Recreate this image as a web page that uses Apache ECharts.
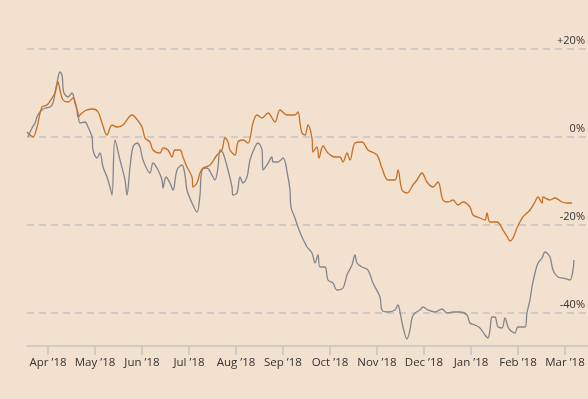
<!DOCTYPE html>
<html>
<head>
<meta charset="utf-8">
<script src="https://cdn.jsdelivr.net/npm/echarts@6/dist/echarts.min.js"></script>
<style>
  html, body { margin: 0; padding: 0; background: #f3e1cf; }
  #chart { width: 588px; height: 399px; }
</style>
</head>
<body>
<div id="chart"></div>
<script>
// Month labels; x positions below are measured in months from Apr '18 (0 = Apr).
const monthLabels = ["Apr ’18", "May ’18", "Jun ’18", "Jul ’18", "Aug ’18", "Sep ’18",
                     "Oct ’18", "Nov ’18", "Dec ’18", "Jan ’18", "Feb ’18", "Mar ’18"];
const yTicks = [-40, -20, 0, 20];

// Orange series: position (months) and % change
const orangeX = [-0.447,-0.383,-0.319,-0.234,-0.128,-0.021,0.085,0.149,0.213,0.255,0.319,0.426,0.532,0.617,0.638,0.723,0.830,0.957,1.064,1.149,1.255,1.362,1.468,1.596,1.787,1.851,2.0,2.064,2.170,2.234,2.383,2.447,2.553,2.638,2.702,2.809,2.872,2.957,3.064,3.085,3.170,3.234,3.298,3.447,3.596,3.702,3.766,3.830,3.872,3.979,4.043,4.149,4.255,4.362,4.447,4.553,4.681,4.830,4.936,5.085,5.255,5.319,5.362,5.404,5.468,5.532,5.617,5.638,5.723,5.766,5.851,5.957,6.106,6.213,6.277,6.362,6.426,6.532,6.681,6.809,7.0,7.106,7.234,7.383,7.447,7.532,7.638,7.766,7.851,7.957,8.064,8.191,8.298,8.404,8.511,8.617,8.723,8.830,8.979,9.043,9.191,9.298,9.340,9.404,9.553,9.681,9.787,9.830,9.894,9.979,10.106,10.255,10.362,10.426,10.511,10.532,10.681,10.787,10.936,11.043,11.149];
const orangeY = [1.14,0.45,0,2.27,6.82,7.27,8.86,10.0,12.5,10.68,8.41,7.95,8.86,6.14,4.55,5.45,6.14,6.36,5.68,3.18,0.45,2.73,2.27,2.73,5.0,4.55,2.27,-0.23,-1.14,-2.95,-3.64,-2.5,-2.95,-4.55,-2.95,-2.95,-4.55,-6.82,-9.09,-11.36,-10.45,-8.18,-7.05,-6.36,-4.09,-2.95,-0.23,-1.14,-2.95,-4.09,-1.14,-0.68,-1.36,3.18,5.0,4.32,5.45,3.41,6.14,5.0,5.0,5.68,3.18,0.91,0.45,2.73,-0.23,-3.41,-2.27,-4.77,-2.05,-3.64,-4.55,-4.55,-5.68,-3.64,-5.23,-1.36,-1.14,-2.95,-4.09,-7.05,-9.77,-9.77,-7.5,-12.05,-12.73,-10.91,-9.77,-8.18,-10.23,-11.36,-10.23,-14.32,-14.77,-14.32,-15.45,-14.77,-15.91,-17.73,-18.41,-18.86,-17.27,-19.32,-19.32,-21.14,-22.95,-23.64,-22.95,-20.68,-18.18,-16.59,-14.77,-13.64,-15.0,-13.64,-14.32,-13.86,-14.77,-15.0,-15.0];

// Grey series: position (months) and % change
const greyX = [-0.426,-0.340,-0.277,-0.234,-0.170,-0.064,0.043,0.106,0.149,0.191,0.255,0.298,0.319,0.340,0.426,0.511,0.574,0.638,0.681,0.787,0.851,0.936,0.957,1.043,1.106,1.170,1.255,1.319,1.362,1.426,1.532,1.638,1.681,1.745,1.809,1.894,1.957,2.021,2.170,2.234,2.340,2.426,2.447,2.511,2.596,2.660,2.745,2.851,2.915,2.957,3.064,3.170,3.234,3.277,3.383,3.489,3.553,3.617,3.660,3.723,3.830,3.915,3.936,4.021,4.085,4.149,4.234,4.298,4.404,4.468,4.553,4.574,4.660,4.766,4.787,4.894,5.0,5.106,5.149,5.170,5.255,5.319,5.404,5.468,5.511,5.617,5.681,5.745,5.787,5.894,5.957,6.064,6.149,6.277,6.362,6.468,6.532,6.574,6.681,6.809,6.915,7.064,7.106,7.234,7.383,7.447,7.489,7.553,7.638,7.702,7.745,7.809,7.915,7.979,8.085,8.234,8.383,8.489,8.617,8.766,8.915,8.979,9.085,9.191,9.298,9.362,9.404,9.447,9.511,9.574,9.660,9.723,9.787,9.830,9.936,10.0,10.149,10.191,10.255,10.298,10.362,10.426,10.511,10.574,10.681,10.745,10.851,10.957,11.106,11.170,11.191];
const greyY = [0,2.05,3.18,4.55,5.68,6.59,6.82,7.73,10.0,12.27,14.77,14.09,11.36,10.0,9.09,10.0,7.73,5.45,3.18,3.41,2.27,0,-2.95,-4.77,-3.64,-6.82,-9.09,-11.36,-13.18,-0.68,-5.23,-9.77,-13.18,-6.82,-2.27,-1.36,-2.27,-5.23,-8.18,-5.91,-7.5,-9.77,-11.59,-9.09,-10.45,-12.05,-7.5,-6.36,-8.64,-12.05,-15.0,-17.05,-13.18,-7.5,-7.05,-8.64,-9.77,-6.82,-2.95,-3.64,-7.5,-11.36,-13.18,-12.73,-9.09,-10.45,-9.09,-5.23,-2.27,-1.36,-2.95,-7.5,-6.36,-4.55,-5.68,-5.68,-4.77,-9.09,-12.05,-15.91,-18.41,-20.45,-22.73,-24.09,-25.0,-26.36,-28.64,-26.82,-29.55,-29.55,-32.5,-33.18,-34.77,-34.32,-31.36,-29.09,-26.82,-28.64,-29.55,-30.23,-33.18,-36.36,-39.32,-39.77,-39.32,-38.18,-39.77,-43.18,-45.91,-43.86,-41.14,-40.0,-39.32,-38.64,-39.32,-39.77,-39.09,-40.0,-39.77,-39.77,-40.45,-42.27,-42.73,-43.41,-45.0,-45.68,-43.86,-40.91,-40.91,-43.18,-43.41,-41.14,-43.18,-43.86,-44.55,-43.18,-43.18,-40.0,-37.05,-34.09,-30.91,-28.64,-27.5,-26.14,-27.27,-30.23,-31.82,-32.05,-32.5,-30.23,-27.95];

const zip = (xs, ys) => xs.map((x, i) => [x, ys[i]]);
const monthIdx = monthLabels.map((_, i) => i);

const chart = echarts.init(document.getElementById('chart'), null, { renderer: 'canvas' });
chart.setOption({
  backgroundColor: '#f3e1cf',
  animation: false,
  textStyle: { fontFamily: '"Open Sans", sans-serif' },
  grid: { left: 27, right: 0, top: 27, bottom: 53 },
  xAxis: {
    type: 'value',
    min: -0.447,
    max: 11.49,
    axisLine: { show: true, onZero: false, lineStyle: { color: '#c3c3c3', width: 1.5 } },
    axisTick: { show: true, length: 9, lineStyle: { color: '#c3c3c3', width: 1.5 }, customValues: monthIdx },
    axisLabel: {
      customValues: monthIdx,
      formatter: v => monthLabels[Math.round(v)],
      color: '#333333', fontSize: 11.5, margin: 11,
      hideOverlap: false, alignMaxLabel: 'center', alignMinLabel: 'center'
    },
    splitLine: { show: false }
  },
  yAxis: {
    type: 'value',
    position: 'right',
    min: -47.5,
    max: 25,
    axisLine: { show: false },
    axisTick: { show: false, customValues: yTicks },
    axisLabel: {
      customValues: yTicks,
      inside: true,
      formatter: v => (v > 0 ? '+' : '') + v + '%',
      color: '#333333', fontSize: 11, margin: 3,
      verticalAlign: 'bottom', padding: [0, 0, 3, 0]
    },
    splitLine: { show: true, lineStyle: { color: '#c4c4c6', type: [7, 5], width: 1.5 } }
  },
  series: [
    {
      type: 'line', name: 'grey', data: zip(greyX, greyY),
      showSymbol: false, smooth: 0.35,
      lineStyle: { color: '#81868b', width: 1.3 }
    },
    {
      type: 'line', name: 'orange', data: zip(orangeX, orangeY),
      showSymbol: false, smooth: 0.35,
      lineStyle: { color: '#c96f24', width: 1.3 }
    }
  ]
});
</script>
</body>
</html>
